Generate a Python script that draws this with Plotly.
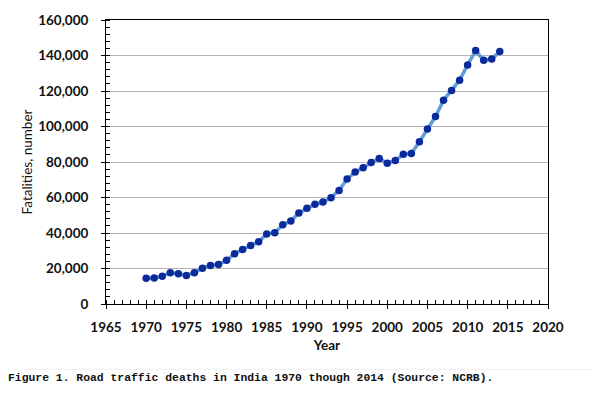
import plotly.graph_objects as go

years = list(range(1970, 2015))
deaths = [14500, 14600, 15700, 17600, 17000, 16100, 17600, 20200, 21700, 22200,
          24600, 28300, 30700, 32900, 35100, 39500, 40200, 44600, 46800, 51300,
          53900, 56200, 57400, 59900, 64000, 70400, 74300, 76700, 79700, 82000,
          79300, 80900, 84300, 84800, 91400, 98600, 105600, 114800, 120300, 126100,
          134700, 142800, 137300, 138000, 142300]

x_ticks = list(range(1965, 2021, 5))
y_ticks = list(range(0, 160001, 20000))

fig = go.Figure()
fig.add_trace(go.Scatter(
    x=years, y=deaths, mode="lines+markers",
    line=dict(color="#639dd8", width=3.5),
    marker=dict(color="#0b2a9c", size=7.5),
    showlegend=False,
))

tickfont = dict(family="Lato", size=13.5, color="#111111", weight="bold")

fig.update_layout(
    width=600, height=400,
    margin=dict(l=106, r=52, t=14, b=96),
    paper_bgcolor="white", plot_bgcolor="white",
    font=dict(family="Lato", color="#111111"),
    xaxis=dict(
        range=[1965, 2020], tickvals=x_ticks, ticktext=[str(v) for v in x_ticks],
        showgrid=False, zeroline=False,
        showline=True, linecolor="black", linewidth=1, mirror=True,
        ticks="outside", ticklen=4, tickcolor="black",
        minor=dict(dtick=1, ticks="inside", ticklen=4, tickcolor="black", showgrid=False),
        tickfont=tickfont, ticklabelstandoff=7,
        title=dict(text="<b>Year</b>", font=dict(family="Lato", size=13.5), standoff=6),
    ),
    yaxis=dict(
        range=[0, 160000], tickvals=y_ticks, ticktext=[f"{v:,}" for v in y_ticks],
        showgrid=True, gridcolor="#b4b4b4", gridwidth=1, zeroline=False,
        showline=True, linecolor="black", linewidth=1, mirror=True,
        ticks="outside", ticklen=4, tickcolor="black",
        minor=dict(dtick=4000, tick0=0, ticks="inside", ticklen=4, tickcolor="black", showgrid=False),
        tickfont=tickfont, ticklabelstandoff=10,
        title=dict(text="Fatalities, number", font=dict(family="Lato", size=13.5), standoff=2),
    ),
)

fig.add_shape(type="line", xref="paper", yref="paper", x0=-0.18, x1=1.1,
              y0=-0.23, y1=-0.23, line=dict(color="#eeeeee", width=1))

fig.add_annotation(
    text="<b>Figure 1. Road traffic deaths in India 1970 though 2014 (Source: NCRB).</b>",
    xref="paper", yref="paper", x=-0.226, y=-0.234, xanchor="left", yanchor="top",
    showarrow=False, font=dict(family="Liberation Mono", size=11.4, color="#111111"),
)

fig.write_html("out.html")
